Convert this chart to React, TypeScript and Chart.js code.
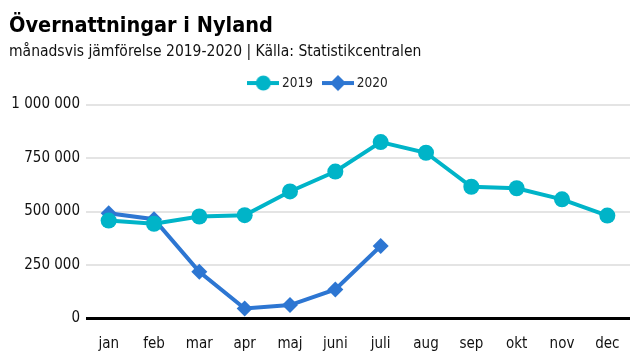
import React, { useEffect, useRef } from "react";
import { Chart, registerables, layouts } from "chart.js";

Chart.register(...registerables);

const months = ["jan", "feb", "mar", "apr", "maj", "juni", "juli", "aug", "sep", "okt", "nov", "dec"];
const values2019 = [458000, 443000, 477000, 483000, 594000, 687000, 825000, 775000, 616000, 609000, 557000, 481000];
const values2020 = [492000, 464000, 218000, 47000, 63000, 136000, 339000, null, null, null, null, null];
const yTicks = [0, 250000, 500000, 750000, 1000000];

const C2019 = "#00b4c8";
const C2020 = "#2d76d2";
const FONT = "'DejaVu Sans', sans-serif";

function legendIcon(color: string, kind: "circle" | "diamond") {
  const c = document.createElement("canvas");
  c.width = 32;
  c.height = 18;
  const g = c.getContext("2d")!;
  g.strokeStyle = color;
  g.fillStyle = color;
  g.lineWidth = 4;
  g.beginPath();
  g.moveTo(0, 9);
  g.lineTo(32, 9);
  g.stroke();
  g.beginPath();
  if (kind === "circle") {
    g.arc(16, 9, 7.5, 0, Math.PI * 2);
  } else {
    g.moveTo(16, 1);
    g.lineTo(24, 9);
    g.lineTo(16, 17);
    g.lineTo(8, 9);
    g.closePath();
  }
  g.fill();
  return c;
}

function fmt(v: number) {
  return String(v).replace(/\B(?=(\d{3})+(?!\d))/g, " ");
}

// empty layout box between the legend and the plot area
const spacerPlugin = {
  id: "spacer",
  beforeInit(chart: any) {
    const box: any = {
      position: "top",
      weight: 100,
      fullSize: true,
      options: {},
      top: 0,
      left: 0,
      right: 0,
      bottom: 0,
      width: 0,
      height: 0,
      isHorizontal() {
        return true;
      },
      update(maxWidth: number) {
        this.width = maxWidth;
        this.height = 4.8;
      },
      draw() {},
    };
    layouts.addBox(chart, box);
  },
};

export default function App() {
  const ref = useRef<HTMLCanvasElement>(null);
  useEffect(() => {
    document.body.style.margin = "0";
    const icons = [legendIcon(C2019, "circle"), legendIcon(C2020, "diamond")];
    const chart = new Chart(ref.current!, {
      type: "line",
      data: {
        labels: months,
        datasets: [
          {
            label: "2019",
            data: values2019,
            borderColor: C2019,
            backgroundColor: C2019,
            borderWidth: 4,
            pointStyle: "circle",
            pointRadius: 8,
            pointHoverRadius: 8,
            pointBorderWidth: 0,
          },
          {
            label: "2020",
            data: values2020,
            borderColor: C2020,
            backgroundColor: C2020,
            borderWidth: 4,
            pointStyle: "rectRot",
            pointRadius: 8,
            pointHoverRadius: 8,
            pointBorderWidth: 0,
          },
        ],
      },
      plugins: [spacerPlugin],
      options: {
        responsive: false,
        animation: false,
        layout: { padding: { left: 9, right: 10, bottom: 0 } },
        plugins: {
          title: {
            display: true,
            text: "Övernattningar i Nyland",
            align: "start",
            color: "#000",
            font: { family: FONT, size: 21.5, weight: "bold condensed", lineHeight: 1.2 },
            padding: { top: 13.5, bottom: 3 },
          },
          subtitle: {
            display: true,
            text: "månadsvis jämförelse 2019-2020 | Källa: Statistikcentralen",
            align: "start",
            color: "#111",
            font: { family: FONT, size: 15.5, weight: "condensed", lineHeight: 1.2 },
            padding: { top: 0, bottom: 2.4 },
          },
          legend: {
            display: true,
            labels: {
              usePointStyle: true,
              pointStyleWidth: 24,
              color: "#222",
              font: { family: FONT, size: 13.5, weight: "condensed" },
              padding: 13,
              generateLabels: (ch: any) =>
                ch.data.datasets.map((ds: any, i: number) => ({
                  text: ds.label,
                  pointStyle: icons[i],
                  fillStyle: ds.borderColor,
                  strokeStyle: ds.borderColor,
                  lineWidth: 0,
                  hidden: false,
                  datasetIndex: i,
                  fontColor: "#222",
                })),
            },
          },
          tooltip: { enabled: false },
        },
        scales: {
          x: {
            offset: true,
            grid: { display: false, drawTicks: false },
            border: { display: false },
            afterFit: (s: any) => {
              s.height = 41.5;
            },
            ticks: { color: "#111", font: { family: FONT, size: 15, weight: "condensed" }, padding: 17 },
          },
          y: {
            min: 0,
            max: 1000000,
            afterBuildTicks: (s: any) => {
              s.ticks = yTicks.map((v) => ({ value: v }));
            },
            afterFit: (s: any) => {
              s.width = 77;
            },
            grid: {
              drawTicks: false,
              color: (ctx: any) => (ctx.tick && ctx.tick.value === 0 ? "#000" : "#e4e4e4"),
              lineWidth: (ctx: any) => (ctx.tick && ctx.tick.value === 0 ? 3 : 2),
            },
            border: { display: false },
            ticks: {
              color: "#111",
              font: { family: FONT, size: 15, weight: "condensed" },
              padding: 6,
              callback: (v: any) => fmt(Number(v)),
            },
          },
        },
      },
    });
    return () => chart.destroy();
  }, []);
  return (
    <div style={{ width: 640, height: 360 }}>
      <canvas ref={ref} width={640} height={360} style={{ display: "block" }} />
    </div>
  );
}
